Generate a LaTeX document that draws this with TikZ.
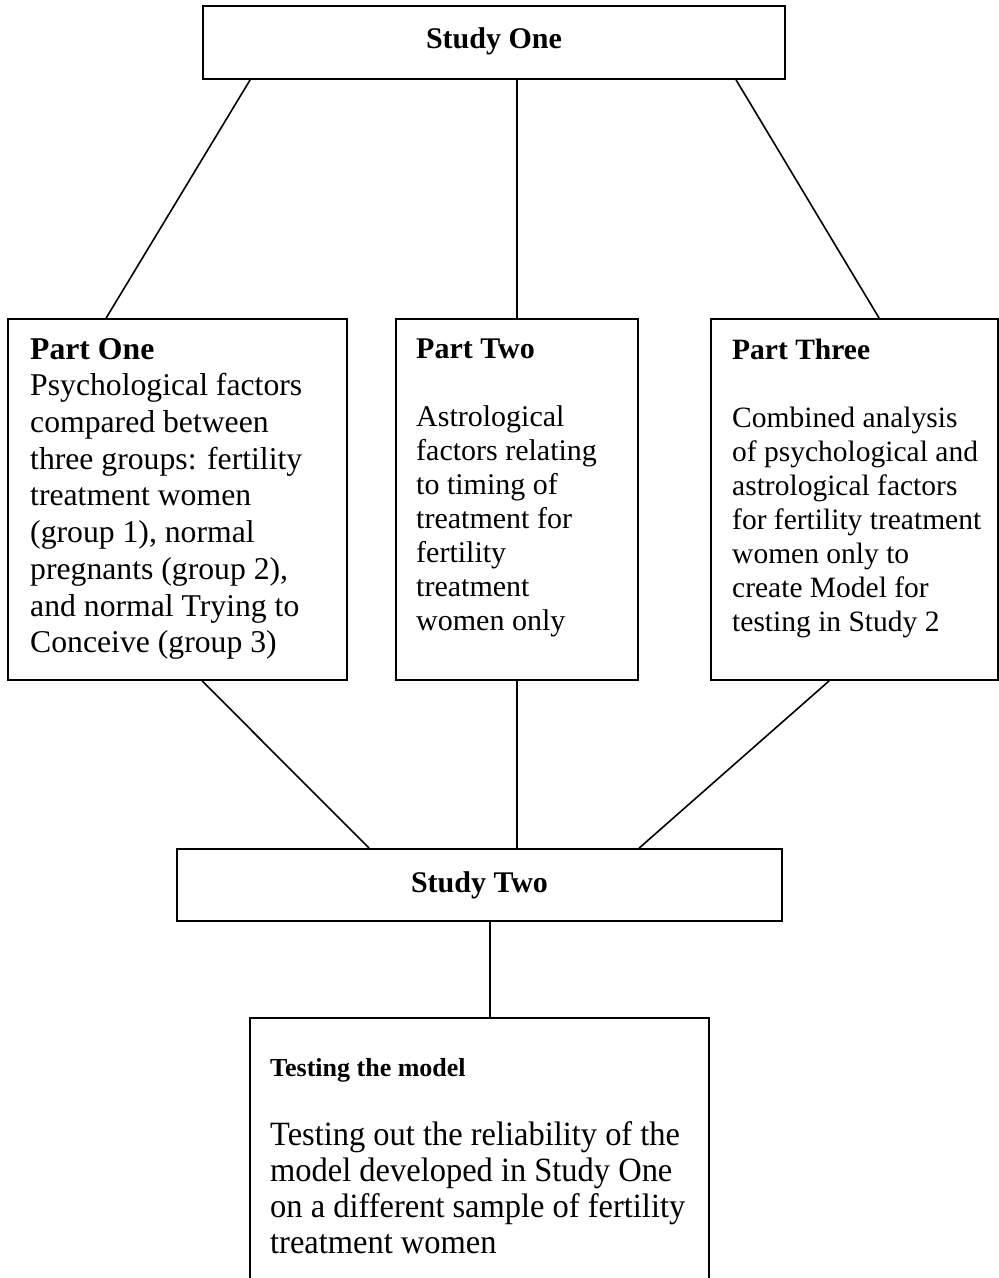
\documentclass[tikz,border=0pt]{standalone}
\usepackage{fontspec}
\setmainfont{Liberation Serif}
\newfontfamily\condserif[FakeStretch=0.955]{Liberation Serif}
\begin{document}
\begin{tikzpicture}[x=1pt,y=-1pt,
  box/.style={draw=black,line width=1.8pt,rectangle,inner sep=0pt},
  conn/.style={draw=black,line width=1.6pt},
  txt/.style={anchor=north west,inner sep=0pt,align=left,font=\fontsize{30}{34}\selectfont},
  txtA/.style={anchor=north west,inner sep=0pt,align=left,font=\fontsize{31.7}{36.7}\selectfont},
  title/.style={inner sep=0pt,font=\fontsize{30}{34}\selectfont\bfseries}]
\useasboundingbox (0,0) rectangle (999,1278);
\clip (0,0) rectangle (999,1278);
% boxes
\node[box,minimum width=582pt,minimum height=73pt] (s1) at (494,42.5) {};
\node[box,minimum width=339pt,minimum height=361pt] (p1) at (177.5,499.5) {};
\node[box,minimum width=242pt,minimum height=361pt] (p2) at (517,499.5) {};
\node[box,minimum width=287pt,minimum height=361pt] (p3) at (854.5,499.5) {};
\node[box,minimum width=605pt,minimum height=72pt] (s2) at (479.5,885) {};
\node[box,minimum width=459pt,minimum height=290pt] (t) at (479.5,1163) {};
% texts
\node[title,anchor=base] (s1t) at (494,48) {Study One};
\node[title,anchor=base] (s2t) at (479.5,892) {Study Two};
\node[txtA] (p1t) at (30,338) {\textbf{Part One}\\Psychological factors\\compared between\\three groups: fertility\\treatment women\\(group 1), normal\\pregnants (group 2),\\and normal Trying to\\Conceive (group 3)};
\node[txt] (p2t) at (416,339) {\textbf{Part Two}\\[34pt]Astrological\\factors relating\\to timing of\\treatment for\\fertility\\treatment\\women only};
\node[txt,font=\fontsize{29.5}{34}\selectfont] (p3t) at (732,339) {\textbf{Part Three}\\[34pt]Combined analysis\\of psychological and\\astrological factors\\for fertility treatment\\women only to\\create Model for\\testing in Study 2};
\node[anchor=base west,inner sep=0pt,font=\fontsize{26}{30}\selectfont\bfseries] (tt) at (270,1076) {Testing the model};
\node[anchor=north west,inner sep=0pt,align=left,font=\condserif\fontsize{34}{36}\selectfont] (tb) at (270,1121) {Testing out the reliability of the\\model developed in Study One\\on a different sample of fertility\\treatment women};
% connectors
\draw[conn] ([xshift=48pt]s1.south west) -- ([xshift=99pt]p1.north west);
\draw[conn] (p2.north |- s1.south) -- (p2.north);
\draw[conn] ([xshift=534pt]s1.south west) -- ([xshift=169pt]p3.north west);
\draw[conn] ([xshift=195pt]p1.south west) -- ([xshift=193pt]s2.north west);
\draw[conn] (p2.south) -- (p2.south |- s2.north);
\draw[conn] ([xshift=119pt]p3.south west) -- ([xshift=463pt]s2.north west);
\draw[conn] ([xshift=314pt]s2.south west) -- ([xshift=241pt]t.north west);
\end{tikzpicture}
\end{document}
